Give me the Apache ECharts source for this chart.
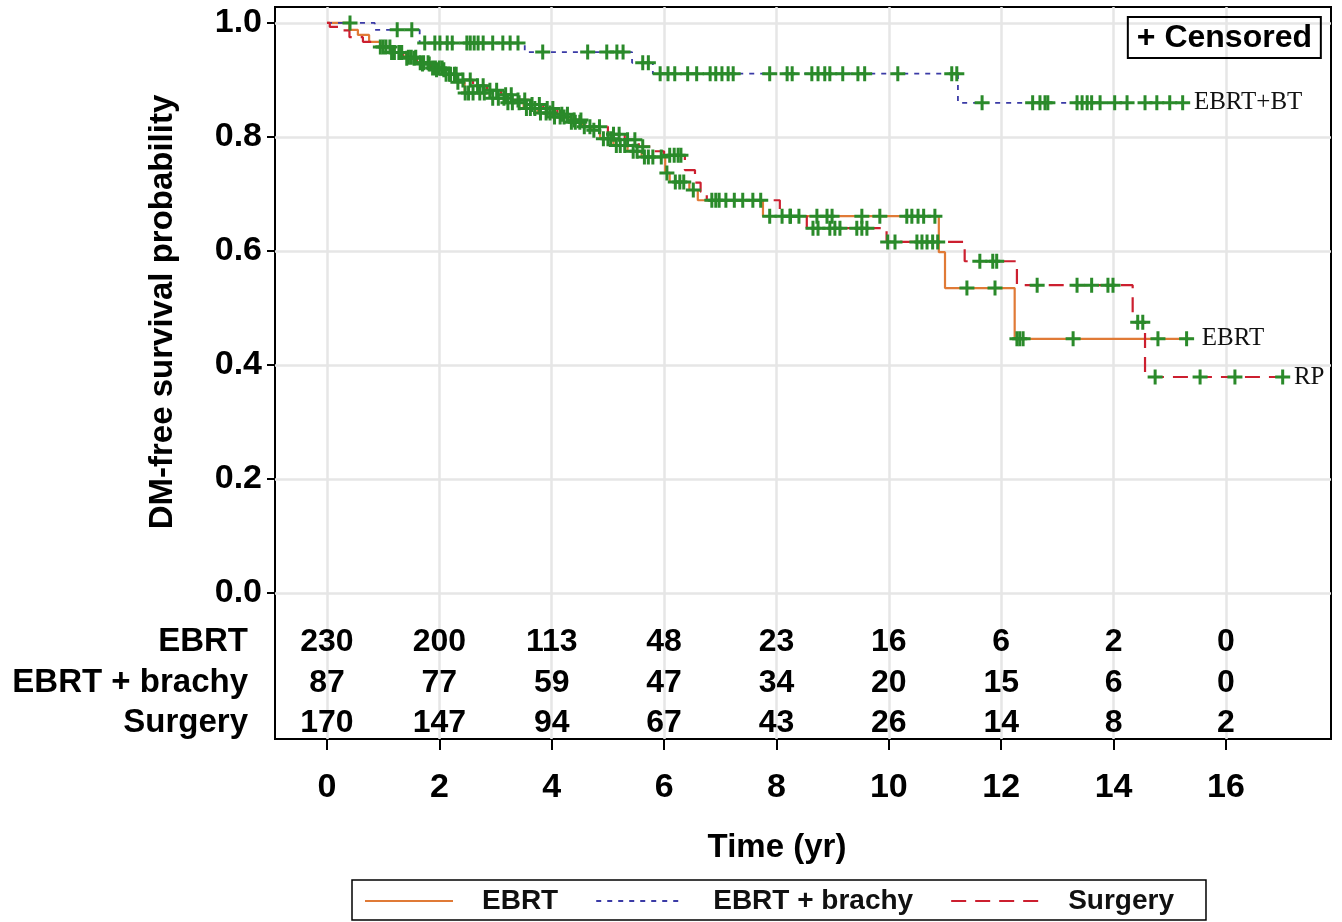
<!DOCTYPE html>
<html><head><meta charset="utf-8">
<script src="https://cdn.jsdelivr.net/npm/echarts@6/dist/echarts.min.js"></script>
<style>html,body{margin:0;padding:0;background:#fff}#c{width:1342px;height:922px}</style>
</head><body><div id="c"></div>
<script>
// ---------- data ----------
const xTicks = [0, 2, 4, 6, 8, 10, 12, 14, 16];
const yTicks = [0, 0.2, 0.4, 0.6, 0.8, 1.0];
const groupNames = ['EBRT', 'EBRT + brachy', 'Surgery'];
const endNames = ['EBRT', 'EBRT+BT', 'RP'];
// Kaplan-Meier steps: [time (yr), survival from that time on]
const ebrtSteps = [[0,1],[0.4,0.988],[0.55,0.979],[0.75,0.967],[0.95,0.958],[1.2,0.948],[1.4,0.94],[1.6,0.93],[1.85,0.921],[2.1,0.91],[2.3,0.896],[2.45,0.877],[2.9,0.868],[3.2,0.86],[3.5,0.85],[3.75,0.842],[4.0,0.835],[4.3,0.826],[4.55,0.818],[4.7,0.812],[4.86,0.797],[5.1,0.785],[5.35,0.775],[5.6,0.765],[6.02,0.737],[6.1,0.721],[6.45,0.707],[6.6,0.689],[7.76,0.661],[10.89,0.598],[11.0,0.535],[12.24,0.446],[15.41,0.446]];
const brachySteps = [[0,1],[0.85,0.988],[1.65,0.965],[3.52,0.949],[5.43,0.93],[5.8,0.911],[11.23,0.86],[15.27,0.86]];
const surgerySteps = [[0,1],[0.05,0.993],[0.2,0.987],[0.4,0.975],[0.64,0.967],[0.85,0.958],[1.1,0.948],[1.35,0.938],[1.6,0.928],[1.85,0.918],[2.1,0.91],[2.35,0.9],[2.6,0.89],[2.85,0.882],[3.1,0.874],[3.35,0.865],[3.6,0.857],[3.85,0.85],[4.1,0.84],[4.35,0.83],[4.6,0.818],[5.0,0.805],[5.3,0.795],[5.55,0.783],[5.8,0.775],[6.0,0.768],[6.37,0.742],[6.55,0.72],[6.65,0.704],[6.76,0.689],[8.06,0.661],[8.54,0.64],[9.96,0.616],[11.35,0.582],[12.28,0.54],[14.34,0.475],[14.56,0.379],[17.05,0.379]];
// censoring times (yr)
const ebrtCensor = [0.95,1.05,1.12,1.2,1.28,1.33,1.45,1.5,1.58,1.66,1.72,1.8,1.88,1.93,2.0,2.05,2.12,2.2,2.27,2.33,2.46,2.52,2.6,2.72,2.8,2.95,3.05,3.15,3.22,3.3,3.42,3.55,3.62,3.7,3.8,3.9,3.97,4.05,4.15,4.22,4.35,4.42,4.5,4.58,4.75,4.92,5.0,5.05,5.15,5.22,5.3,5.45,5.52,5.65,5.72,5.8,5.95,6.05,6.2,6.28,6.35,6.52,6.85,6.92,6.98,7.1,7.25,7.4,7.58,7.72,7.88,8.24,8.72,8.9,8.99,9.52,9.84,10.32,10.41,10.52,10.62,10.82,11.39,11.89,12.28,12.33,12.39,13.28,14.79,15.3];
const brachyCensor = [0.41,1.25,1.51,1.74,1.92,2.01,2.14,2.23,2.49,2.55,2.62,2.69,2.78,2.95,3.13,3.26,3.4,3.84,4.64,4.98,5.16,5.27,5.62,5.72,5.93,6.07,6.19,6.42,6.58,6.82,6.92,7.03,7.14,7.23,7.88,8.19,8.28,8.63,8.74,8.86,8.95,9.18,9.45,9.57,10.16,11.12,11.21,11.66,12.56,12.69,12.78,12.83,13.35,13.44,13.53,13.61,13.76,14.02,14.24,14.56,14.77,15.0,15.23];
const surgeryCensor = [1.0,1.15,1.3,1.42,1.55,1.7,1.82,1.95,2.08,2.18,2.3,2.42,2.55,2.68,2.78,2.9,3.02,3.18,3.28,3.4,3.52,3.65,3.78,3.92,4.02,4.18,4.28,4.4,4.52,4.68,4.85,5.1,5.2,5.35,5.48,5.62,6.1,6.18,6.25,6.3,8.1,8.25,8.4,8.65,8.74,8.95,9.04,9.13,9.43,9.52,9.61,9.98,10.11,10.5,10.59,10.68,10.78,10.87,11.62,11.85,11.92,12.64,13.35,13.61,13.9,13.99,14.43,14.52,14.74,15.54,16.16,17.01];
// numbers at risk
const riskTimes = [0, 2, 4, 6, 8, 10, 12, 14, 16];
const riskEBRT = [230, 200, 113, 48, 23, 16, 6, 2, 0];
const riskBrachy = [87, 77, 59, 47, 34, 20, 15, 6, 0];
const riskSurgery = [170, 147, 94, 67, 43, 26, 14, 8, 2];

// ---------- layout / style ----------
const FONT = '"Liberation Sans", Arial, Helvetica, sans-serif';
const SERIF = '"Liberation Serif", "Times New Roman", serif';
const rowY = [-0.086, -0.1575, -0.228];
const rowPx = [642, 683, 723];
const colors = {ebrt: '#E07A36', brachy: '#3A3AA6', surgery: '#CC1F2F', censor: '#2A8A2A'};
const plus = 'path://M6,0h3v6h6v3h-6v6h-3v-6h-6v-3h6z';

function survAt(steps, t) {
  let s = steps[0][1];
  for (const p of steps) { if (p[0] <= t) s = p[1]; else break; }
  return s;
}
function censorData(steps, times) { return times.map(t => [t, survAt(steps, t)]); }

const chart = echarts.init(document.getElementById('c'), null, {renderer: 'canvas'});

function lineSeries(name, steps, color, type, width, endName) {
  return {
    name: name, type: 'line', step: 'end', data: steps, symbol: 'none', showSymbol: false,
    lineStyle: {color: color, type: type, width: width}, itemStyle: {color: color},
    endLabel: {show: true, formatter: endName, fontFamily: SERIF, fontSize: 25, color: '#111', distance: 9},
    z: 3, silent: true
  };
}
function censorSeries(steps, times) {
  return {
    name: 'Censored', type: 'scatter', data: censorData(steps, times), symbol: plus, symbolSize: 15,
    itemStyle: {color: colors.censor, opacity: 1}, z: 5, silent: true
  };
}
const riskRows = [riskEBRT, riskBrachy, riskSurgery];
const riskData = [];
riskRows.forEach((row, r) => row.forEach((v, i) => riskData.push([riskTimes[i], rowY[r], v])));

const option = {
  animation: false,
  backgroundColor: '#fff',
  title: {
    text: '+ Censored', right: 21, top: 17, padding: [5, 9, 4, 9],
    borderColor: '#000', borderWidth: 2,
    textStyle: {fontFamily: FONT, fontWeight: 'bold', fontSize: 32, color: '#000'}
  },
  grid: {left: 275, right: 11, top: 7, bottom: 183, show: true, borderColor: '#000', borderWidth: 2, backgroundColor: 'transparent'},
  legend: {
    data: groupNames, left: 352, bottom: 2, orient: 'horizontal',
    itemWidth: 88, itemHeight: 14, itemGap: 37,
    itemStyle: {color: 'rgba(0,0,0,0)', borderColor: 'rgba(0,0,0,0)', borderWidth: 0},
    borderColor: '#000', borderWidth: 1.5, padding: [7, 32, 5, 12],
    textStyle: {fontFamily: FONT, fontWeight: 'bold', fontSize: 28, color: '#111', padding: [0, 0, 0, 24]}
  },
  xAxis: {
    type: 'value', min: -0.925, max: 17.87,
    axisLine: {show: false, onZero: false},
    axisTick: {show: true, customValues: xTicks, length: 11, inside: false, lineStyle: {color: '#000', width: 2}},
    axisLabel: {customValues: xTicks, margin: 32, fontFamily: FONT, fontWeight: 'bold', fontSize: 34, color: '#000'},
    splitLine: {show: true, lineStyle: {color: '#e6e6e6', width: 2.5}}
  },
  yAxis: {
    type: 'value', min: -0.256, max: 1.028,
    axisLine: {show: false, onZero: false},
    axisTick: {show: true, customValues: yTicks, length: 8, inside: false, lineStyle: {color: '#000', width: 2}},
    axisLabel: {customValues: yTicks, margin: 13, formatter: v => v.toFixed(1), fontFamily: FONT, fontWeight: 'bold', fontSize: 34, color: '#000'},
    splitLine: {show: true, lineStyle: {color: '#e6e6e6', width: 2.5}}
  },
  graphic: [
    {type: 'text', x: 163, y: 312, rotation: Math.PI / 2,
     style: {text: 'DM-free survival probability', font: 'bold 33px ' + FONT, fill: '#000', textAlign: 'center', textVerticalAlign: 'middle'}},
    {type: 'text', x: 777, y: 848,
     style: {text: 'Time (yr)', font: 'bold 33px ' + FONT, fill: '#000', textAlign: 'center', textVerticalAlign: 'middle'}},
    {type: 'text', x: 248, y: rowPx[0], style: {text: groupNames[0], font: 'bold 33px ' + FONT, fill: '#000', textAlign: 'right', textVerticalAlign: 'middle'}},
    {type: 'text', x: 248, y: rowPx[1], style: {text: groupNames[1], font: 'bold 33px ' + FONT, fill: '#000', textAlign: 'right', textVerticalAlign: 'middle'}},
    {type: 'text', x: 248, y: rowPx[2], style: {text: groupNames[2], font: 'bold 33px ' + FONT, fill: '#000', textAlign: 'right', textVerticalAlign: 'middle'}}
  ],
  series: [
    lineSeries(groupNames[0], ebrtSteps, colors.ebrt, 'solid', 2.2, endNames[0]),
    lineSeries(groupNames[1], brachySteps, colors.brachy, [5, 6], 1.8, endNames[1]),
    lineSeries(groupNames[2], surgerySteps, colors.surgery, [15, 9], 2.2, endNames[2]),
    censorSeries(ebrtSteps, ebrtCensor),
    censorSeries(brachySteps, brachyCensor),
    censorSeries(surgerySteps, surgeryCensor),
    {
      name: 'atrisk', type: 'scatter', data: riskData, symbolSize: 1, itemStyle: {color: 'rgba(0,0,0,0)', opacity: 1},
      silent: true, z: 6,
      label: {show: true, position: 'inside', formatter: p => String(p.value[2]), fontFamily: FONT, fontWeight: 'bold', fontSize: 32, color: '#000', textBorderWidth: 0, textShadowBlur: 0}
    }
  ]
};
chart.setOption(option);
</script>
</body></html>
